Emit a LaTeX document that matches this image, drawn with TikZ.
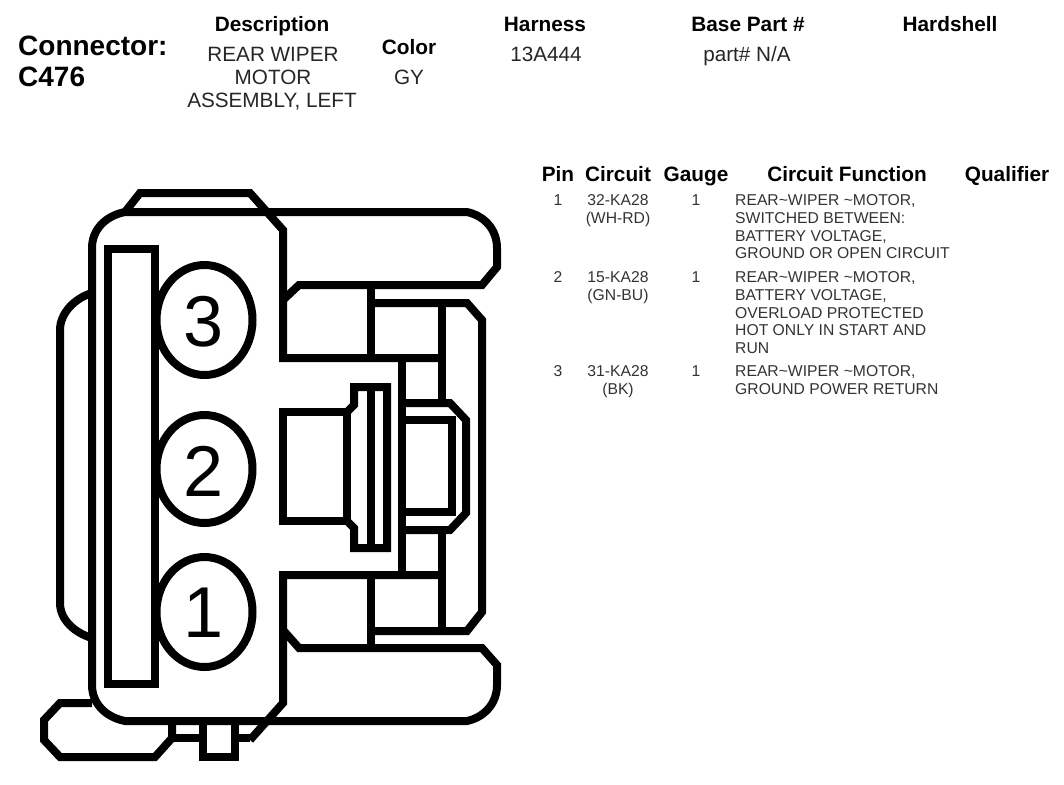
\documentclass[tikz,border=0pt]{standalone}
\usepackage{fontspec}
\setmainfont{Liberation Sans}
\usetikzlibrary{calc}
\tikzset{
  thick line/.style={line width=8pt,line cap=butt,line join=miter,draw=black},
  hdr/.style={inner sep=0pt,anchor=base,font=\fontsize{20.8}{23}\selectfont\bfseries},
  val/.style={inner sep=0pt,anchor=base,font=\fontsize{20.7}{23}\selectfont,text=black!85},
  big/.style={inner sep=0pt,anchor=base west,font=\fontsize{28}{30}\selectfont\bfseries},
  cell/.style={inner sep=0pt,font=\fontsize{15.7}{17.6}\selectfont,text=black!80},
  digit/.style={inner sep=0pt,anchor=center,font=\fontsize{72}{72}\selectfont}
}
\begin{document}
\begin{tikzpicture}[x=1pt,y=-1pt]
\useasboundingbox (0,0) rectangle (1064,784);
% ---- connector body
\begin{scope}[thick line]
\draw (92,248) .. controls (92,230) and (105,216) .. (125,212) -- (467,212)
  .. controls (485,216) and (497,230) .. (497,248) -- (497,267) -- (482,285) -- (299,285) -- (283,300);
\draw (125,212) -- (140,193) -- (250,193) -- (283,230) -- (283,358) -- (442,358);
\draw (92,248) -- (92,685) .. controls (92,703) and (105,717) .. (125,721) -- (467,721)
  .. controls (485,717) and (497,703) .. (497,685) -- (497,665) -- (482,648) -- (299,648) -- (283,630);
\draw (442,575) -- (283,575) -- (283,703) -- (250,740);
% left ear
\draw (92,293) .. controls (75,298) and (60,313) .. (60,330) -- (60,603)
  .. controls (60,620) and (75,633) .. (92,638);
% pin bar
\draw (108,249) rectangle (155,684);
% right-hand frame
\draw (371,285) -- (371,358);
\draw (371,575) -- (371,648);
\draw (371,303) -- (467,303) -- (482,320) -- (482,612) -- (467,631) -- (371,631);
\draw (442,303) -- (442,403);
\draw (442,530) -- (442,631);
\draw (402,358) -- (402,575);
\draw (402,403) -- (450,403) -- (466,420) -- (466,513) -- (450,530) -- (402,530);
\draw (402,420) -- (452,420) -- (452,512) -- (402,512);
% central latch
\draw (283,412) -- (347,412) -- (347,521) -- (283,521) -- cycle;
\draw (347,412) -- (354,405) -- (354,387) -- (387,387) -- (387,548) -- (354,548) -- (354,528) -- (347,521);
\draw (371,387) -- (371,548);
% bottom tab
\draw (92,703) -- (60,703) -- (44,720) -- (44,740) -- (60,757) -- (155,757) -- (172,738) -- (172,721);
\draw (172,738) -- (203,738);
\draw (235,738) -- (250,738);
\draw (203,721) -- (203,757) -- (235,757) -- (235,721);
% cavities
\draw (204.5,320) ellipse [x radius=48,y radius=55];
\draw (204.5,469) ellipse [x radius=48,y radius=54];
\draw (204.5,612) ellipse [x radius=48,y radius=55];
\end{scope}
\node[digit] (p3) at (204,322) {3};
\node[digit] (p2) at (204,471) {2};
\node[digit] (p1) at (204,613) {1};
% ---- header block
\node[big] (conn) at (18,56) {Connector:};
\node[big] (cnum) at (18,86) {C476};
\node[hdr] (hdesc) at (272,32) {Description};
\node[val] (d1) at (273,61) {REAR WIPER};
\node[val] (d2) at (273,84) {MOTOR};
\node[val] (d3) at (272,107) {ASSEMBLY, LEFT};
\node[hdr] (hcol) at (409,55) {Color};
\node[val] (vcol) at (409,84) {GY};
\node[hdr] (hhar) at (545,32) {Harness};
\node[val] (vhar) at (546,62) {13A444};
\node[hdr] (hbase) at (748,32) {Base Part \#};
\node[val] (vbase) at (747,62) {part\# N/A};
\node[hdr] (hhard) at (950,32) {Hardshell};
% ---- table
\node[hdr] (tpin) at (558,181) {Pin};
\node[hdr] (tcir) at (618,181) {Circuit};
\node[hdr] (tgau) at (696,181) {Gauge};
\node[hdr] (tfun) at (847,181) {Circuit Function};
\node[hdr] (tqua) at (1007,181) {Qualifier};
\tikzset{pinc/.style={cell,anchor=north,align=center},funcc/.style={cell,anchor=north west,align=left}}
\node[pinc] (r1a) at (558,194.7) {1};
\node[pinc] (r1b) at (618,194.7) {32-KA28\\(WH-RD)};
\node[pinc] (r1c) at (696,194.7) {1};
\node[funcc] (r1d) at (735,194.7) {REAR\textasciitilde WIPER \textasciitilde MOTOR,\\SWITCHED BETWEEN:\\BATTERY VOLTAGE,\\GROUND OR OPEN CIRCUIT};
\node[pinc] (r2a) at (558,271.7) {2};
\node[pinc] (r2b) at (618,271.7) {15-KA28\\(GN-BU)};
\node[pinc] (r2c) at (696,271.7) {1};
\node[funcc] (r2d) at (735,271.7) {REAR\textasciitilde WIPER \textasciitilde MOTOR,\\BATTERY VOLTAGE,\\OVERLOAD PROTECTED\\HOT ONLY IN START AND\\RUN};
\node[pinc] (r3a) at (558,365.7) {3};
\node[pinc] (r3b) at (618,365.7) {31-KA28\\(BK)};
\node[pinc] (r3c) at (696,365.7) {1};
\node[funcc] (r3d) at (735,365.7) {REAR\textasciitilde WIPER \textasciitilde MOTOR,\\GROUND POWER RETURN};
\end{tikzpicture}
\end{document}
